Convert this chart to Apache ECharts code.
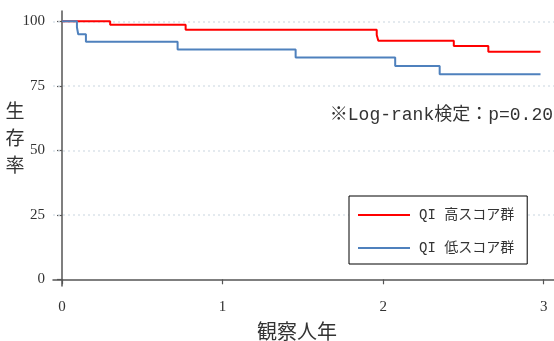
<!DOCTYPE html>
<html><head><meta charset="utf-8">
<script src="https://cdn.jsdelivr.net/npm/echarts@6/dist/echarts.min.js"></script>
<style>html,body{margin:0;padding:0;background:#fff}#c{width:554px;height:341px}</style>
</head><body><div id="c"></div>
<script>
// Data (Kaplan–Meier style step curves)
const seriesNames = ['QI 高スコア群', 'QI 低スコア群'];
const timeHigh = [0, 0.30, 0.77, 1.96, 1.97, 2.44, 2.655, 2.98];
const survHigh = [100, 98.7, 96.7, 94.7, 92.5, 90.4, 88.2, 88.2];
const timeLow = [0, 0.093, 0.101, 0.149, 0.72, 1.455, 2.075, 2.352, 2.98];
const survLow = [100, 97.7, 95.0, 92.1, 89.1, 86.0, 82.7, 79.5, 79.5];
const xTicks = [0, 1, 2, 3];
const yTicks = [0, 25, 50, 75, 100];
const gridValues = [25, 50, 75, 100];
const xName = '観察人年';
const yName = '生存率';
const note = '※Log-rank検定：p=0.20';

const pair = (xs, ys) => xs.map((x, i) => [x, ys[i]]);
const serif = "'Liberation Serif', 'Noto Sans CJK JP', serif";
const mono = "'Liberation Mono', 'Noto Sans CJK JP', monospace";
const axisColor = '#555';
// legend icon: a 2px horizontal line inside a 52x14 box
const lineIcon = 'path://M0,0M0,6h52v2h-52zM52,14';

const chart = echarts.init(document.getElementById('c'), null, {renderer: 'canvas'});
chart.setOption({
  animation: false,
  backgroundColor: '#fff',
  grid: {left: 53, right: 0, top: 11, bottom: 55, containLabel: false},
  xAxis: {
    type: 'value', min: -0.056, max: 3.064,
    axisLine: {show: true, lineStyle: {color: axisColor, width: 1.5}},
    axisTick: {show: true, length: 5, customValues: xTicks, lineStyle: {color: axisColor, width: 1.2}},
    axisLabel: {customValues: xTicks, margin: 14, color: '#333', fontFamily: serif, fontSize: 15},
    splitLine: {show: false}
  },
  yAxis: {
    type: 'value', min: -2.6, max: 104,
    axisLine: {show: true, lineStyle: {color: axisColor, width: 1.5}},
    axisTick: {show: true, length: 5, customValues: yTicks, lineStyle: {color: axisColor, width: 1.2}},
    axisLabel: {customValues: yTicks, margin: 8, color: '#333', fontFamily: serif, fontSize: 15},
    splitLine: {show: false}
  },
  legend: {
    data: seriesNames.map(n => ({name: n, icon: lineIcon})),
    orient: 'vertical', left: 349, top: 196, z: 10,
    padding: [12, 13, 9, 9],
    itemWidth: 52, itemHeight: 14, itemGap: 19,
    itemStyle: {borderWidth: 0},
    borderColor: '#000', borderWidth: 1, backgroundColor: '#fff',
    textStyle: {fontFamily: mono, fontSize: 14, color: '#333', padding: [0, 0, 0, 4]}
  },
  graphic: [
    {type: 'text', style: {text: yName.split('').join('\n'), x: 15, y: 138, textAlign: 'center', textVerticalAlign: 'middle', font: "19px 'Noto Sans CJK JP'", lineHeight: 27, fill: '#333'}},
    {type: 'text', style: {text: xName, x: 297, y: 331, textAlign: 'center', textVerticalAlign: 'middle', font: "20px 'Noto Sans CJK JP'", fill: '#333'}},
    {type: 'text', style: {text: note, x: 553, y: 115, textAlign: 'right', textVerticalAlign: 'middle', font: "18px 'Liberation Mono', 'Noto Sans CJK JP'", fill: '#333'}}
  ],
  series: [
    {
      name: '__grid', type: 'line', data: [], silent: true, z: 1,
      markLine: {
        silent: true, z: 1, symbol: ['none', 'none'], label: {show: false},
        lineStyle: {type: [2, 3], color: '#dbe3ea', width: 1.5},
        data: gridValues.map(v => ({yAxis: v}))
      }
    },
    {
      name: seriesNames[0], type: 'line', step: 'end', symbol: 'none', z: 3,
      data: pair(timeHigh, survHigh),
      lineStyle: {color: '#ff0000', width: 2}, itemStyle: {color: '#ff0000'}
    },
    {
      name: seriesNames[1], type: 'line', step: 'end', symbol: 'none', z: 3,
      data: pair(timeLow, survLow),
      lineStyle: {color: '#4f81bd', width: 2}, itemStyle: {color: '#4f81bd'}
    }
  ]
});
</script></body></html>
